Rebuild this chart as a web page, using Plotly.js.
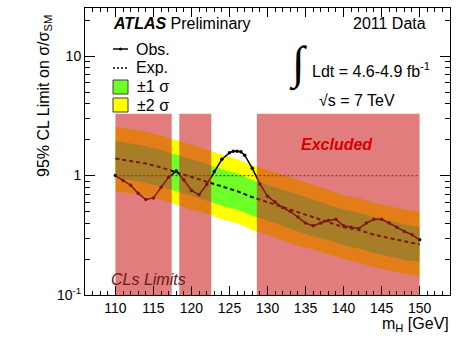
<!DOCTYPE html>
<html>
<head>
<meta charset="utf-8">
<script src="https://cdn.plot.ly/plotly-3.0.1.min.js"></script>
<style>html,body{margin:0;padding:0;background:#fff;}#chart{width:467px;height:342px;}</style>
</head>
<body>
<div id="chart"></div>
<script>
// Expected limit and bands (mH in GeV, limit on sigma/sigma_SM)
const massExp = [110,112,114,116,118,120,122,124,126,128,130,132,134,136,138,140,142,144,146,148,150];
const expMedian = [1.39,1.33,1.26,1.17,1.07,0.98,0.89,0.81,0.74,0.66,0.60,0.54,0.49,0.45,0.41,0.37,0.35,0.32,0.30,0.28,0.265];
const plus1 = [1.95,1.86,1.76,1.64,1.50,1.37,1.25,1.13,1.04,0.92,0.84,0.76,0.69,0.63,0.57,0.52,0.49,0.45,0.42,0.39,0.37];
const minus1 = [0.95,0.92,0.87,0.81,0.74,0.68,0.62,0.56,0.52,0.46,0.42,0.38,0.34,0.31,0.29,0.26,0.245,0.225,0.21,0.196,0.19];
const plus2 = [2.57,2.46,2.33,2.16,1.98,1.81,1.65,1.50,1.37,1.22,1.11,1.00,0.91,0.83,0.76,0.68,0.65,0.59,0.555,0.52,0.49];
const minus2 = [0.74,0.71,0.67,0.63,0.57,0.52,0.48,0.43,0.40,0.35,0.32,0.29,0.26,0.24,0.22,0.20,0.187,0.171,0.16,0.15,0.142];

// Observed limit
const massObs = [110,111,112,113,114,115,116,117,118,119,120,121,122,123,124,125,125.5,126,126.5,127,128,129,130,131,132,133,134,135,136,137,138,139,140,141,142,143,144,145,146,147,148,149,150];
const observed = [1.00,0.91,0.83,0.71,0.63,0.65,0.80,0.97,1.09,0.92,0.75,0.69,0.84,1.08,1.37,1.55,1.60,1.60,1.58,1.48,1.15,0.85,0.67,0.60,0.54,0.50,0.45,0.40,0.38,0.40,0.42,0.43,0.38,0.37,0.36,0.40,0.43,0.43,0.40,0.37,0.34,0.32,0.29];

// Excluded mass ranges
const exclFrom = [110,118.4,128.6];
const exclTo = [117.4,122.6,150];
const exclTop = 3.3;
const exclBottom = 0.1;

// Reference line sigma/sigma_SM = 1
const refMass = [110,150];
const refValue = [1,1];

const FONT = "Liberation Sans, Arial, Helvetica, sans-serif";
const rev = a => a.slice().reverse();

const traces = [];
traces.push({x: massExp.concat(rev(massExp)), y: plus2.concat(rev(minus2)), type:'scatter', mode:'lines',
  fill:'toself', fillcolor:'rgb(255,255,0)', line:{width:0}, hoverinfo:'skip', showlegend:false});
traces.push({x: massExp.concat(rev(massExp)), y: plus1.concat(rev(minus1)), type:'scatter', mode:'lines',
  fill:'toself', fillcolor:'rgb(110,255,40)', line:{width:0}, hoverinfo:'skip', showlegend:false});
traces.push({x: refMass, y: refValue, type:'scatter', mode:'lines',
  line:{color:'rgb(70,70,70)', width:1.3, dash:'2px,2px'}, showlegend:false});
traces.push({x: massExp, y: expMedian, type:'scatter', mode:'lines',
  line:{color:'black', width:2, dash:'4px,3px'}, showlegend:false});
traces.push({x: massObs, y: observed, type:'scatter', mode:'lines+markers',
  line:{color:'black', width:1.5}, marker:{color:'black', size:3.5}, showlegend:false});
for (let i = 0; i < exclFrom.length; i++) {
  traces.push({x:[exclFrom[i],exclTo[i],exclTo[i],exclFrom[i],exclFrom[i]],
    y:[exclBottom,exclBottom,exclTop,exclTop,exclBottom], type:'scatter', mode:'lines',
    fill:'toself', fillcolor:'rgba(207,38,38,0.6)', line:{width:0}, hoverinfo:'skip', showlegend:false});
}

// pixel helpers for paper coords (plot area: x 85..450, y 8..295)
const px = v => (v - 85) / 365;
const py = v => (295 - v) / 287;

const shapes = [
  {type:'line', xref:'paper', yref:'paper', x0:px(113), x1:px(128), y0:py(49), y1:py(49), line:{color:'black', width:1.5}},
  {type:'circle', xref:'paper', yref:'paper', x0:px(119), x1:px(122), y0:py(50.5), y1:py(47.5), fillcolor:'black', line:{color:'black', width:0}},
  {type:'line', xref:'paper', yref:'paper', x0:px(113), x1:px(128), y0:py(68), y1:py(68), line:{color:'black', width:1.5, dash:'2px,2px'}},
  {type:'rect', xref:'paper', yref:'paper', x0:px(113), x1:px(128), y0:py(94), y1:py(80), fillcolor:'rgb(110,255,40)', line:{color:'rgb(60,60,60)', width:1}},
  {type:'rect', xref:'paper', yref:'paper', x0:px(113), x1:px(128), y0:py(112), y1:py(98), fillcolor:'rgb(255,255,0)', line:{color:'rgb(60,60,60)', width:1}}
];

const ann = (text, x, y, xanchor, size, extra) => Object.assign({text, x, y, xref:'paper', yref:'paper',
  xanchor, yanchor:'middle', showarrow:false, font:{family:FONT, size, color:'black'}}, extra || {});

const annotations = [
  ann('Obs.', px(134), py(49), 'left', 16),
  ann('Exp.', px(134), py(68), 'left', 16),
  ann('±1 σ', px(135), py(87), 'left', 16),
  ann('±2 σ', px(135), py(105), 'left', 16),
  ann('<b><i>ATLAS</i></b> Preliminary', px(111), py(24), 'left', 16),
  ann('2011 Data', px(428), py(24), 'right', 16),
  ann('∫', px(298), py(64), 'center', 46, {font:{family:'Liberation Serif, DejaVu Serif, serif', size:46, color:'black'}}),
  ann('Ldt = 4.6-4.9 fb<sup>-1</sup>', px(310), py(70), 'left', 16),
  ann('√s = 7 TeV', px(317), py(100), 'left', 16),
  ann('<b><i>Excluded</i></b>', px(337), py(144), 'center', 16, {font:{family:FONT, size:16, color:'rgb(215,0,0)'}}),
  ann('<i>CLs Limits</i>', px(109), py(279), 'left', 16, {font:{family:FONT, size:16, color:'rgb(105,25,25)'}}),
  ann('95% CL Limit on σ/σ<sub>SM</sub>', px(44), py(96), 'center', 16, {textangle:-90}),
  ann('m<sub>H</sub> [GeV]', px(451), py(324), 'right', 16)
];

const layout = {
  width:467, height:342,
  margin:{l:85, r:17, t:8, b:47, pad:0},
  paper_bgcolor:'white', plot_bgcolor:'white',
  font:{family:FONT, color:'black', size:14},
  showlegend:false,
  xaxis:{range:[106,154], tickmode:'linear', tick0:110, dtick:5, ticks:'inside', ticklen:9, tickwidth:1, tickcolor:'black',
    minor:{tick0:110, dtick:1, ticks:'inside', ticklen:4, tickcolor:'black', tickwidth:1},
    showline:true, linecolor:'black', linewidth:1, mirror:'ticks', showgrid:false, zeroline:false,
    tickfont:{family:FONT, size:14, color:'black'}},
  yaxis:{type:'log', range:[-1,1.403], tickmode:'array', tickvals:[0.1,1,10], ticktext:['10<sup>-1</sup>','1','10'],
    ticks:'inside', ticklen:10, tickwidth:1, tickcolor:'black',
    minor:{tickmode:'array', tickvals:[0.2,0.3,0.4,0.5,0.6,0.7,0.8,0.9,2,3,4,5,6,7,8,9,20], ticks:'inside', ticklen:5, tickcolor:'black', tickwidth:1},
    showline:true, linecolor:'black', linewidth:1, mirror:'ticks', showgrid:false, zeroline:false,
    tickfont:{family:FONT, size:14, color:'black'}},
  shapes, annotations
};

Plotly.newPlot('chart', traces, layout, {staticPlot:true, displayModeBar:false});
</script>
</body>
</html>
